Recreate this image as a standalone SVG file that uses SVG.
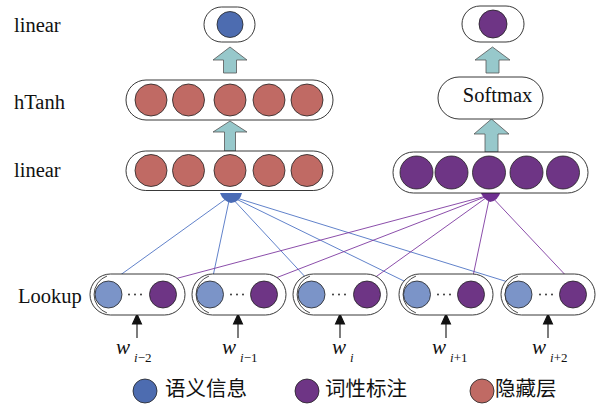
<svg xmlns="http://www.w3.org/2000/svg" width="597" height="405" viewBox="0 0 597 405">
<style>
.box{fill:#fff;stroke:#222;stroke-width:0.9}
.red{fill:#c06a64;stroke:#222;stroke-width:0.8}
.pur{fill:#6e3585;stroke:#222;stroke-width:0.8}
.lb{fill:#7b94c8;stroke:#222;stroke-width:0.8}
.db{fill:#4d6cb0;stroke:#222;stroke-width:0.8}
.big{fill:#97c8cb;stroke:#555;stroke-width:0.8}
.lbl{font-family:"Liberation Serif","Times New Roman",serif;font-size:20.5px;fill:#111}
.w{font-family:"Liberation Serif","Times New Roman",serif;font-style:italic;font-size:21px;fill:#111}
.sub{font-family:"Liberation Serif","Times New Roman",serif;font-size:13px;fill:#111}
.leg{font-family:"Noto Sans CJK SC","Noto Sans",sans-serif;font-size:20.5px;fill:#111}
.bl{stroke:#4f74c4;stroke-width:0.9;fill:none}
.pl{stroke:#7e3aa0;stroke-width:0.9;fill:none}
.inner{fill:none;stroke:#222;stroke-width:0.8}
.dot{fill:#222}
</style>

<!-- layer labels -->
<g id="labels">
<text class="lbl" x="14" y="32">linear</text>
<text class="lbl" x="14" y="109">hTanh</text>
<text class="lbl" x="14" y="177">linear</text>
<text class="lbl" x="18" y="303">Lookup</text>
</g>

<!-- connectors -->
<g id="connectors">
<line class="bl" x1="112" y1="281" x2="230" y2="196"/>
<line class="bl" x1="212" y1="281" x2="230" y2="196"/>
<line class="bl" x1="309" y1="281" x2="230" y2="196"/>
<line class="bl" x1="406" y1="282" x2="230" y2="196"/>
<line class="bl" x1="508" y1="282" x2="230" y2="196"/>
<line class="pl" x1="167" y1="281" x2="490" y2="195"/>
<line class="pl" x1="268" y1="281" x2="490" y2="195"/>
<line class="pl" x1="370" y1="281" x2="490" y2="195"/>
<line class="pl" x1="472" y1="281" x2="490" y2="195"/>
<line class="pl" x1="571" y1="281" x2="490" y2="195"/>
<path d="M220,193 L242,193 Q240,202 231,203 Q223,201 220,193 Z" fill="#4a6bb5"/>
<path d="M480,191 L501,191 Q498,201 490,202 Q483,199 480,191 Z" fill="#6e3090"/>
<polygon class="big" points="223.5,73 223.5,60 213,60 230,47 247,60 236.5,60 236.5,73"/>
<polygon class="big" points="224.5,151 224.5,132 213,132 230,121 247,132 235.5,132 235.5,151"/>
<polygon class="big" points="486,73 486,60 475,60 492.5,47 510,60 499,60 499,73"/>
<polygon class="big" points="485,152 485,134 474,134 491.5,119 509,134 498,134 498,152"/>
<g stroke="#111" stroke-width="1.1" fill="#111">
<line x1="137" y1="338" x2="137" y2="322"/><polygon points="132.5,324 141.5,324 137,314"/>
<line x1="238" y1="338" x2="238" y2="322"/><polygon points="233.5,324 242.5,324 238,314"/>
<line x1="340" y1="338" x2="340" y2="322"/><polygon points="335.5,324 344.5,324 340,314"/>
<line x1="446" y1="338" x2="446" y2="322"/><polygon points="441.5,324 450.5,324 446,314"/>
<line x1="548" y1="338" x2="548" y2="322"/><polygon points="543.5,324 552.5,324 548,314"/>
</g>
</g>

<!-- left column -->
<g id="out-semantic">
<rect class="box" x="204" y="7" width="51" height="35" rx="17.5"/>
<circle class="db" cx="230" cy="24.5" r="13"/>
</g>
<g id="hTanh">
<rect class="box" x="126" y="80" width="207" height="40" rx="20"/>
<circle class="red" cx="151" cy="100" r="16"/>
<circle class="red" cx="188.5" cy="100" r="16"/>
<circle class="red" cx="230" cy="100" r="16"/>
<circle class="red" cx="269" cy="100" r="16"/>
<circle class="red" cx="307" cy="100" r="16"/>
</g>
<g id="linear-left">
<rect class="box" x="126" y="151" width="207" height="39.5" rx="19.75"/>
<circle class="red" cx="151" cy="170.5" r="16"/>
<circle class="red" cx="188.5" cy="170.5" r="16"/>
<circle class="red" cx="230" cy="170.5" r="16"/>
<circle class="red" cx="269" cy="170.5" r="16"/>
<circle class="red" cx="307" cy="170.5" r="16"/>
</g>

<!-- right column -->
<g id="out-pos">
<rect class="box" x="462" y="6" width="62" height="36" rx="18"/>
<circle class="pur" cx="493" cy="24" r="14"/>
</g>
<g id="softmax">
<rect class="box" x="438" y="77" width="105" height="42" rx="21"/>
<text class="lbl" x="497.5" y="102" text-anchor="middle">Softmax</text>
</g>
<g id="linear-right">
<rect class="box" x="393" y="152" width="195" height="41" rx="20.5"/>
<circle class="pur" cx="416.5" cy="172.5" r="16.5"/>
<circle class="pur" cx="451.5" cy="172.5" r="16.5"/>
<circle class="pur" cx="489" cy="172.5" r="16.5"/>
<circle class="pur" cx="526.5" cy="172.5" r="16.5"/>
<circle class="pur" cx="563" cy="172.5" r="16.5"/>
</g>

<!-- lookup boxes -->
<g id="lookup1">
<rect class="box" x="90" y="274" width="95" height="41" rx="20.5"/>
<path class="inner" d="M107,276 A19.7,19.7 0 0 0 107,313"/>
<circle class="lb" cx="108.5" cy="294.5" r="13.5"/>
<circle class="dot" cx="129" cy="294.5" r="0.9"/><circle class="dot" cx="135" cy="294.5" r="0.9"/><circle class="dot" cx="141" cy="294.5" r="0.9"/>
<circle class="pur" cx="163" cy="294.5" r="13.5"/>
</g>
<g id="lookup2">
<rect class="box" x="192" y="274" width="94" height="41" rx="20.5"/>
<path class="inner" d="M209,276 A19.7,19.7 0 0 0 209,313"/>
<circle class="lb" cx="210" cy="294.5" r="13.5"/>
<circle class="dot" cx="231" cy="294.5" r="0.9"/><circle class="dot" cx="237" cy="294.5" r="0.9"/><circle class="dot" cx="243" cy="294.5" r="0.9"/>
<circle class="pur" cx="264" cy="294.5" r="13.5"/>
</g>
<g id="lookup3">
<rect class="box" x="293" y="274" width="94" height="41" rx="20.5"/>
<path class="inner" d="M310,276 A19.7,19.7 0 0 0 310,313"/>
<circle class="lb" cx="311.5" cy="294.5" r="13.5"/>
<circle class="dot" cx="333" cy="294.5" r="0.9"/><circle class="dot" cx="339" cy="294.5" r="0.9"/><circle class="dot" cx="345" cy="294.5" r="0.9"/>
<circle class="pur" cx="367" cy="294.5" r="13.5"/>
</g>
<g id="lookup4">
<rect class="box" x="399" y="274" width="94" height="41" rx="20.5"/>
<path class="inner" d="M416,276 A19.7,19.7 0 0 0 416,313"/>
<circle class="lb" cx="417" cy="294.5" r="13.5"/>
<circle class="dot" cx="438" cy="294.5" r="0.9"/><circle class="dot" cx="444" cy="294.5" r="0.9"/><circle class="dot" cx="450" cy="294.5" r="0.9"/>
<circle class="pur" cx="471" cy="294.5" r="13.5"/>
</g>
<g id="lookup5">
<rect class="box" x="501" y="274" width="94" height="41" rx="20.5"/>
<path class="inner" d="M518,276 A19.7,19.7 0 0 0 518,313"/>
<circle class="lb" cx="518.5" cy="294.5" r="13.5"/>
<circle class="dot" cx="540" cy="294.5" r="0.9"/><circle class="dot" cx="546" cy="294.5" r="0.9"/><circle class="dot" cx="552" cy="294.5" r="0.9"/>
<circle class="pur" cx="573" cy="294.5" r="13.5"/>
</g>

<!-- word inputs -->
<g id="inputs">
<text class="w" x="116" y="354">w</text><text class="sub" x="134" y="362"><tspan font-style="italic">i</tspan>−2</text>
<text class="w" x="222" y="354">w</text><text class="sub" x="240" y="362"><tspan font-style="italic">i</tspan>−1</text>
<text class="w" x="332" y="354">w</text><text class="sub" x="350" y="362"><tspan font-style="italic">i</tspan></text>
<text class="w" x="432" y="354">w</text><text class="sub" x="450" y="362"><tspan font-style="italic">i</tspan>+1</text>
<text class="w" x="532" y="354">w</text><text class="sub" x="550" y="362"><tspan font-style="italic">i</tspan>+2</text>
</g>

<!-- legend -->
<g id="legend">
<circle class="db" cx="145" cy="391" r="12"/>
<text class="leg" x="165" y="396">语义信息</text>
<circle class="pur" cx="307" cy="391" r="12"/>
<text class="leg" x="325" y="396">词性标注</text>
<circle class="red" cx="482" cy="391" r="12"/>
<text class="leg" x="495" y="396">隐藏层</text>
</g>
</svg>
